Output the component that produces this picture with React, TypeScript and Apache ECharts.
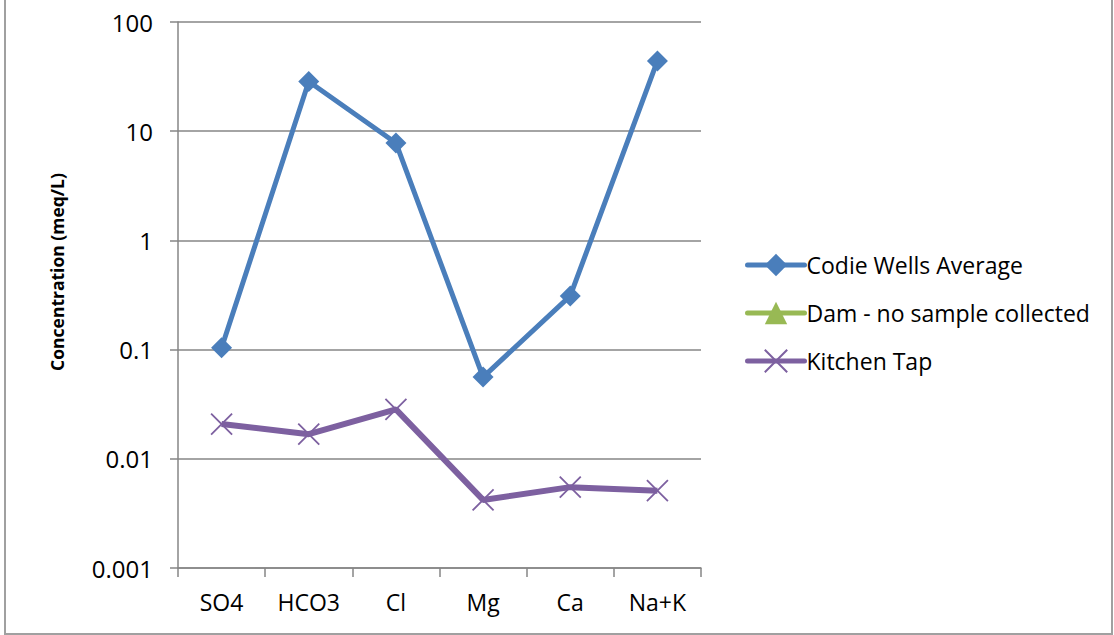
import React, { useEffect, useRef } from "react";
import * as echarts from "echarts";

const categories = ["SO4", "HCO3", "Cl", "Mg", "Ca", "Na+K"];
const codieWells = [0.104, 28.5, 7.8, 0.056, 0.31, 44];
const dam: (number | null)[] = [null, null, null, null, null, null];
const kitchenTap = [0.0208, 0.0168, 0.0284, 0.0042, 0.0055, 0.0051];
const seriesNames = ["Codie Wells Average", "Dam - no sample collected", "Kitchen Tap"];

const FONT = "'Open Sans', 'Noto Sans', sans-serif";

export default function App() {
  const ref = useRef<HTMLDivElement>(null);
  useEffect(() => {
    if (!ref.current) return;
    const chart = echarts.init(ref.current, null, { renderer: "svg" });
    chart.setOption({
      animation: false,
      backgroundColor: "#ffffff",
      textStyle: { fontFamily: FONT },
      grid: { left: 178, right: 413, top: 22, bottom: 67, containLabel: false },
      legend: {
        orient: "vertical",
        left: 740,
        top: 246,
        itemGap: 20,
        itemWidth: 57,
        itemHeight: 28,
        lineStyle: { width: 5, cap: "round" },
        textStyle: { fontSize: 23, color: "#000", fontFamily: FONT, padding: [0, 0, 0, -3], lineHeight: 28 },
        data: seriesNames,
      },
      xAxis: {
        type: "category",
        data: categories,
        boundaryGap: true,
        axisLine: { lineStyle: { color: "#868686", width: 1.5 } },
        axisTick: { show: true, length: 9, lineStyle: { color: "#868686", width: 1.5 } },
        axisLabel: { color: "#000", fontSize: 23, margin: 22, fontFamily: FONT },
      },
      yAxis: {
        type: "log",
        logBase: 10,
        min: 0.001,
        max: 100,
        axisLine: { show: true, lineStyle: { color: "#868686", width: 1.5 } },
        axisTick: { show: true, length: 8, lineStyle: { color: "#868686", width: 1.5 } },
        splitLine: { show: true, lineStyle: { color: "#868686", width: 1.5 } },
        axisLabel: {
          color: "#000",
          fontSize: 24,
          margin: 25,
          fontFamily: FONT,
          formatter: (v: number) => String(Number(v.toPrecision(6))),
        },
      },
      graphic: [
        {
          type: "text",
          x: 57,
          y: 272,
          rotation: Math.PI / 2,
          style: {
            text: "Concentration (meq/L)",
            fontSize: 17.5,
            fontWeight: "bold",
            fontFamily: FONT,
            fill: "#000",
            align: "center",
            verticalAlign: "middle",
          },
        },
        {
          type: "rect",
          shape: { x: 5, y: -5, width: 1107, height: 639 },
          style: { fill: "none", stroke: "#a0a0a0", lineWidth: 2 },
          silent: true,
        },
      ],
      series: [
        {
          name: seriesNames[0],
          type: "line",
          data: codieWells,
          symbol: "diamond",
          symbolSize: 21,
          lineStyle: { color: "#4a7ebb", width: 5 },
          itemStyle: { color: "#4a7ebb" },
        },
        {
          name: seriesNames[1],
          type: "line",
          data: dam,
          symbol: "triangle",
          symbolSize: 18,
          lineStyle: { color: "#98b954", width: 5 },
          itemStyle: { color: "#98b954" },
        },
        {
          name: seriesNames[2],
          type: "line",
          data: kitchenTap,
          symbol: "path://M0,0L10,10M10,0L0,10",
          symbolSize: 21,
          lineStyle: { color: "#7d60a0", width: 6 },
          itemStyle: { color: "#7d60a0", borderColor: "#7d60a0", borderWidth: 1.8 },
        },
      ],
    });
    return () => chart.dispose();
  }, []);
  return (
    <div
      ref={ref}
      style={{ position: "fixed", left: 0, top: 0, width: 1114, height: 635 }}
    />
  );
}
